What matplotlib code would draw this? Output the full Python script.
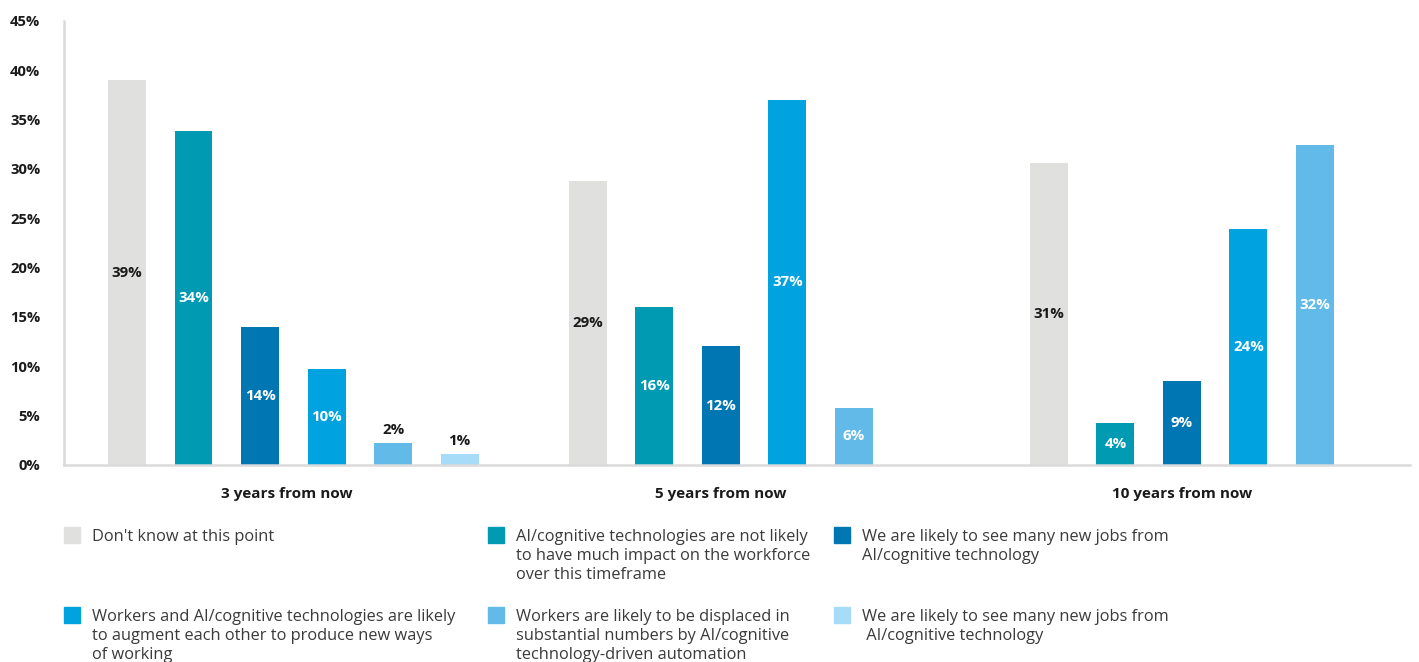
import numpy as np
import matplotlib.pyplot as plt
from matplotlib.patches import Rectangle

plt.rcParams['font.family'] = ['Open Sans', 'DejaVu Sans']

categories = ['3 years from now', '5 years from now', '10 years from now']
series = ["Don't know at this point",
          'AI/cognitive technologies are not likely\nto have much impact on the workforce\nover this timeframe',
          'We are likely to see many new jobs from\nAI/cognitive technology',
          'Workers and AI/cognitive technologies are likely\nto augment each other to produce new ways\nof working',
          'Workers are likely to be displaced in\nsubstantial numbers by AI/cognitive\ntechnology-driven automation',
          'We are likely to see many new jobs from\n AI/cognitive technology']
colors = ['#E0E0DF', '#009AB3', '#0076B2', '#00A3E0', '#62BAE9', '#A6DCF7']

# values per series, one per category (None = no bar)
s0 = [39.0, 28.8, 30.6]
s1 = [33.85, 16.0, 4.25]
s2 = [14.0, 12.05, 8.5]
s3 = [9.75, 37.0, 23.9]
s4 = [2.25, 5.8, 32.4]
s5 = [1.1, None, None]
values = [s0, s1, s2, s3, s4, s5]

l0 = ['39%', '29%', '31%']
l1 = ['34%', '16%', '4%']
l2 = ['14%', '12%', '9%']
l3 = ['10%', '37%', '24%']
l4 = ['2%', '6%', '32%']
l5 = ['1%', None, None]
labels = [l0, l1, l2, l3, l4, l5]

fig = plt.figure(figsize=(14.19, 6.62), dpi=100)
ax = fig.add_axes([0.0451, 0.2976, 0.9486, 0.6707])

group_step = 6.93
bw = 0.571
centers = {}
for i, (vals, labs) in enumerate(zip(values, labels)):
    for g, (v, lab) in enumerate(zip(vals, labs)):
        if v is None:
            continue
        x = g * group_step + i
        centers.setdefault(g, []).append(x)
        ax.bar(x, v, width=bw, color=colors[i], zorder=2)
        if v < 3:
            ax.text(x, v + 0.6, lab, ha='center', va='bottom', fontsize=10.8,
                    fontweight='bold', color='#1a1a1a')
        else:
            ax.text(x, v / 2, lab, ha='center', va='center', fontsize=10.8,
                    fontweight='bold', color='#1a1a1a' if i == 0 else 'white')

ax.set_xlim(-0.947, 19.29)
ax.set_ylim(0, 45)
ax.set_yticks(np.arange(0, 46, 5))
ax.set_yticklabels([f'{t}%' for t in range(0, 46, 5)], fontsize=10.6,
                   fontweight='bold', color='#1a1a1a')
ax.tick_params(axis='y', length=0, pad=17)
ax.set_xticks([])
for g, cat in enumerate(categories):
    ax.text(np.mean(centers[g]) - (0.1 if g == 0 else 0), -2.9, cat, ha='center',
            va='center', fontsize=11, fontweight='bold', color='#1a1a1a')

for s in ['top', 'right']:
    ax.spines[s].set_visible(False)
for s in ['left', 'bottom']:
    ax.spines[s].set_color('#DADADA')
    ax.spines[s].set_linewidth(1.8)

# legend
W, H = 1419, 662
cols_x = [64, 488, 834]
rows_y = [527, 607]
for k, (name, col) in enumerate(zip(series, colors)):
    r, c = divmod(k, 3)
    x0, y0 = cols_x[c], rows_y[r]
    fig.patches.append(Rectangle((x0 / W, 1 - (y0 + 16) / H), 16 / W, 16 / H,
                                 transform=fig.transFigure, color=col))
    fig.text((x0 + 28) / W, 1 - (y0 + 2) / H, name, ha='left', va='top',
             fontsize=11.75, color='#3a3a3a', linespacing=1.27)

plt.savefig('out.png', dpi=100)
